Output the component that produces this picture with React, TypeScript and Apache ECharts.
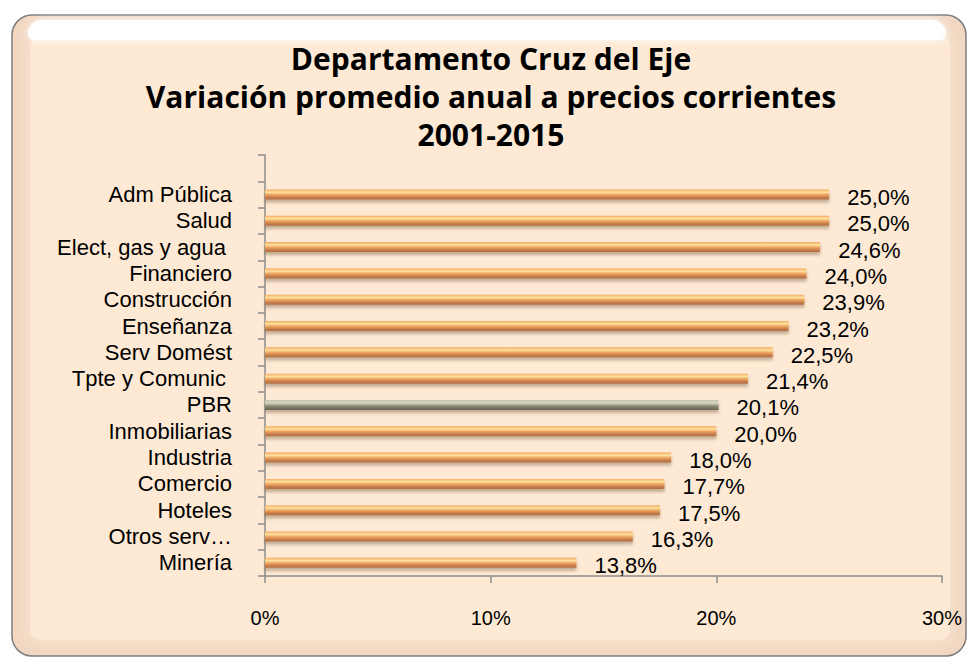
import React, { useEffect, useRef } from "react";
import * as echarts from "echarts";

const titleLines = [
  "Departamento Cruz del Eje",
  "Variación promedio anual a precios corrientes",
  "2001-2015",
];

const categories = [
  "",
  "Adm Pública",
  "Salud",
  "Elect, gas y agua ",
  "Financiero",
  "Construcción",
  "Enseñanza",
  "Serv Domést",
  "Tpte y Comunic ",
  "PBR",
  "Inmobiliarias",
  "Industria",
  "Comercio",
  "Hoteles",
  "Otros serv…",
  "Minería",
];

const values: (number | null)[] = [
  null, 25.0, 25.0, 24.6, 24.0, 23.9, 23.2, 22.5, 21.4, 20.1, 20.0, 18.0, 17.7, 17.5, 16.3, 13.8,
];

const highlightCategory = "PBR";

const xTicks = { min: 0, max: 30, interval: 10 };

const TITLE_FONT = "'Open Sans', Lato, sans-serif";
const FONT = "'Liberation Sans', Arial, sans-serif";

export default function App() {
  const ref = useRef<HTMLDivElement>(null);

  useEffect(() => {
    if (!ref.current) return;
    const chart = echarts.init(ref.current, undefined, { renderer: "svg" });

    const orangeGrad = new echarts.graphic.LinearGradient(0, 0, 0, 1, [
      { offset: 0, color: "#F4A862" },
      { offset: 0.28, color: "#FDE3A0" },
      { offset: 0.5, color: "#F1A963" },
      { offset: 0.8, color: "#C47B4B" },
      { offset: 1, color: "#B26F43" },
    ]);
    const grayGrad = new echarts.graphic.LinearGradient(0, 0, 0, 1, [
      { offset: 0, color: "#C4C1AB" },
      { offset: 0.3, color: "#D9D6C2" },
      { offset: 0.6, color: "#8E8B77" },
      { offset: 1, color: "#656252" },
    ]);

    const seriesData = categories.map((c, i) => {
      const v = values[i];
      if (v === null) return "-";
      return {
        value: v,
        itemStyle: {
          color: c === highlightCategory ? grayGrad : orangeGrad,
          shadowColor: "rgba(90,60,30,0.35)",
          shadowBlur: 3,
          shadowOffsetY: 3,
        },
      };
    });

    chart.setOption({
      animation: false,
      backgroundColor: "#ffffff",
      graphic: [
        {
          type: "rect",
          z: -20,
          shape: { x: 12, y: 15, width: 954, height: 641, r: 20 },
          style: { fill: "#F1D7C2", stroke: "#7d7d7d", lineWidth: 1.5 },
        },
        {
          type: "rect",
          z: -19,
          shape: { x: 30, y: 36, width: 920, height: 604, r: 10 },
          style: { fill: "#FDE9D4", shadowBlur: 16, shadowColor: "#FDE9D4" },
        },
        {
          type: "rect",
          z: -18,
          shape: { x: 28, y: 20, width: 918, height: 20, r: [14, 14, 6, 6] },
          style: { fill: "#ffffff", shadowBlur: 8, shadowColor: "#ffffff", opacity: 0.95 },
        },
        {
          type: "text",
          z: 10,
          style: {
            x: 491,
            y: 96,
            text: titleLines.join("\n"),
            align: "center",
            verticalAlign: "middle",
            font: `bold 30px ${TITLE_FONT}`,
            lineHeight: 38,
            fill: "#000",
          },
        },
      ],
      grid: { left: 265, right: 29, top: 155, bottom: 84, containLabel: false },
      xAxis: {
        type: "value",
        min: xTicks.min,
        max: xTicks.max,
        interval: xTicks.interval,
        position: "bottom",
        splitLine: { show: false },
        axisLine: { show: true, lineStyle: { color: "#8c8c8c", width: 1.5 } },
        axisTick: { show: true, length: 7, lineStyle: { color: "#8c8c8c", width: 1.5 } },
        axisLabel: {
          formatter: "{value}%",
          margin: 31,
          fontSize: 20,
          lineHeight: 22,
          fontFamily: FONT,
          color: "#000",
        },
      },
      yAxis: {
        type: "category",
        inverse: true,
        data: categories,
        axisLine: { show: true, lineStyle: { color: "#8c8c8c", width: 1.5 } },
        axisTick: { show: true, length: 7, lineStyle: { color: "#8c8c8c", width: 1.5 } },
        axisLabel: {
          margin: 33,
          fontSize: 22,
          lineHeight: 22,
          fontFamily: FONT,
          color: "#000",
          interval: 0,
        },
      },
      series: [
        {
          type: "bar",
          data: seriesData,
          barWidth: 10,
          label: {
            show: true,
            position: "right",
            distance: 18,
            offset: [0, 3],
            fontSize: 22,
            lineHeight: 22,
            fontFamily: FONT,
            color: "#000",
            formatter: (p: any) =>
              typeof p.value === "number" ? p.value.toFixed(1).replace(".", ",") + "%" : "",
          },
        },
      ],
    });

    return () => chart.dispose();
  }, []);

  return (
    <div
      ref={ref}
      style={{ position: "fixed", left: 0, top: 0, width: 971, height: 660 }}
    />
  );
}
